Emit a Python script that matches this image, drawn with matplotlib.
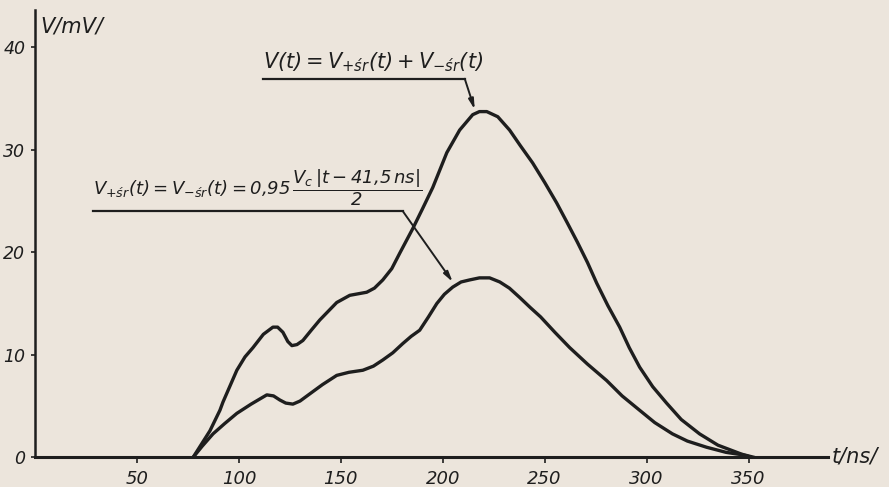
import matplotlib.pyplot as plt

# V(t) = V+sr(t) + V-sr(t) (t in ns, V in mV)
t_sum = [77.5, 85.8, 90.7, 92.2, 99.0, 103.0, 106.9, 112.0, 116.7, 119.0,
         121.6, 124.0, 126.0, 128.5, 131.4, 135.5, 139.7, 148.0, 154.4, 162.7,
         166.5, 170.6, 175.0, 178.9, 185.3, 190.0, 195.1, 202.0, 208.3, 214.7,
         218.0, 221.6, 227.0, 232.8, 238.0, 244.1, 250.0, 255.9, 261.0, 266.0,
         271.0, 275.5, 281.0, 286.8, 291.5, 296.6, 303.0, 309.8, 317.0, 326.0,
         335.0, 345.6, 351.5]
v_sum = [0.0, 2.6, 4.6, 5.4, 8.5, 9.8, 10.7, 12.0, 12.7, 12.7,
         12.2, 11.3, 10.9, 11.0, 11.4, 12.4, 13.4, 15.1, 15.8, 16.1,
         16.5, 17.3, 18.4, 19.9, 22.3, 24.2, 26.3, 29.7, 31.9, 33.4,
         33.7, 33.7, 33.2, 31.9, 30.4, 28.7, 26.8, 24.8, 22.9, 21.0,
         19.0, 17.0, 14.8, 12.7, 10.7, 8.8, 6.9, 5.3, 3.7, 2.3,
         1.2, 0.4, 0.0]

# V+sr(t) = V-sr(t)
t_half = [77.5, 82.0, 87.3, 93.0, 99.0, 106.0, 113.7, 117.0, 120.1, 123.0,
          126.5, 130.0, 134.8, 141.0, 148.0, 154.0, 160.8, 166.0, 170.6, 175.5,
          180.4, 184.5, 188.7, 193.0, 197.1, 200.8, 204.9, 209.0, 213.2, 218.0,
          223.0, 228.0, 232.7, 237.7, 243.0, 248.0, 255.0, 262.3, 271.0, 280.4,
          288.0, 296.6, 304.0, 312.7, 320.0, 329.4, 339.0, 349.0, 353.0]
v_half = [0.0, 1.1, 2.3, 3.3, 4.3, 5.2, 6.1, 6.0, 5.6, 5.3,
          5.2, 5.5, 6.2, 7.1, 8.0, 8.3, 8.5, 8.9, 9.5, 10.2,
          11.1, 11.8, 12.4, 13.7, 15.0, 15.9, 16.6, 17.1, 17.3, 17.5,
          17.5, 17.1, 16.5, 15.6, 14.6, 13.7, 12.2, 10.7, 9.1, 7.5,
          6.0, 4.6, 3.4, 2.3, 1.6, 1.0, 0.5, 0.2, 0.0]

x_ticks = [50, 100, 150, 200, 250, 300, 350]
y_ticks = [0, 10, 20, 30, 40]

paper = '#ece5dc'
ink = '#1e1e1e'

plt.rcParams['mathtext.fontset'] = 'custom'
plt.rcParams['mathtext.rm'] = 'DejaVu Sans:italic'
plt.rcParams['mathtext.it'] = 'DejaVu Sans:italic'
plt.rcParams['mathtext.sf'] = 'DejaVu Sans:italic'

fig = plt.figure(figsize=(8.89, 4.87), dpi=100, facecolor=paper)
ax = fig.add_axes([0.0394, 0.0606, 0.8920, 0.9189])
ax.set_facecolor(paper)

ax.plot(t_sum, v_sum, color=ink, lw=2.4, solid_joinstyle='round', solid_capstyle='round')
ax.plot(t_half, v_half, color=ink, lw=2.4, solid_joinstyle='round', solid_capstyle='round')

ax.set_xlim(0, 389)
ax.set_ylim(0, 43.6)
ax.set_xticks(x_ticks)
ax.set_yticks(y_ticks)
ax.tick_params(axis='x', length=4, width=1.2, pad=5, labelsize=13, colors=ink)
ax.tick_params(axis='y', length=3, width=1.2, pad=4, labelsize=12.5, colors=ink)
for lab in ax.get_xticklabels() + ax.get_yticklabels():
    lab.set_fontstyle('italic')
for side in ['top', 'right']:
    ax.spines[side].set_visible(False)
ax.spines['left'].set_linewidth(1.8)
ax.spines['bottom'].set_linewidth(2.2)
ax.spines['left'].set_color(ink)
ax.spines['bottom'].set_color(ink)

# axis titles written at the ends of the axes
ax.text(2.5, 42.0, 'V/mV/', ha='left', va='center', fontsize=15, style='italic',
        color=ink, clip_on=False)
ax.text(391, 0.1, 't/ns/', ha='left', va='center', fontsize=15, style='italic',
        color=ink, clip_on=False)

# label for the sum curve
ax.text(112, 37.4, r'$V(t)=V_{+śr}(t)+V_{-śr}(t)$', ha='left', va='bottom',
        fontsize=15, color=ink)
ax.plot([111.8, 210.8], [36.9, 36.9], color=ink, lw=1.6, clip_on=False)
ax.annotate('', xy=(215.7, 33.9), xytext=(210.8, 36.9),
            arrowprops=dict(arrowstyle='-|>,head_length=0.6,head_width=0.15',
                            color=ink, lw=1.4, shrinkA=0, shrinkB=0))

# label for the half curves
ax.text(28.4, 24.3, r'$V_{+śr}(t)=V_{-śr}(t)=0{,}95\,\dfrac{V_c\,|t-41{,}5\,ns|}{2}$',
        ha='left', va='bottom', fontsize=13, color=ink)
ax.plot([28.4, 180.4], [24.0, 24.0], color=ink, lw=1.6, clip_on=False)
ax.annotate('', xy=(204.9, 17.1), xytext=(180.4, 24.0),
            arrowprops=dict(arrowstyle='-|>,head_length=0.6,head_width=0.15',
                            color=ink, lw=1.4, shrinkA=0, shrinkB=0))

fig.savefig('out.png', dpi=100, facecolor=paper)
